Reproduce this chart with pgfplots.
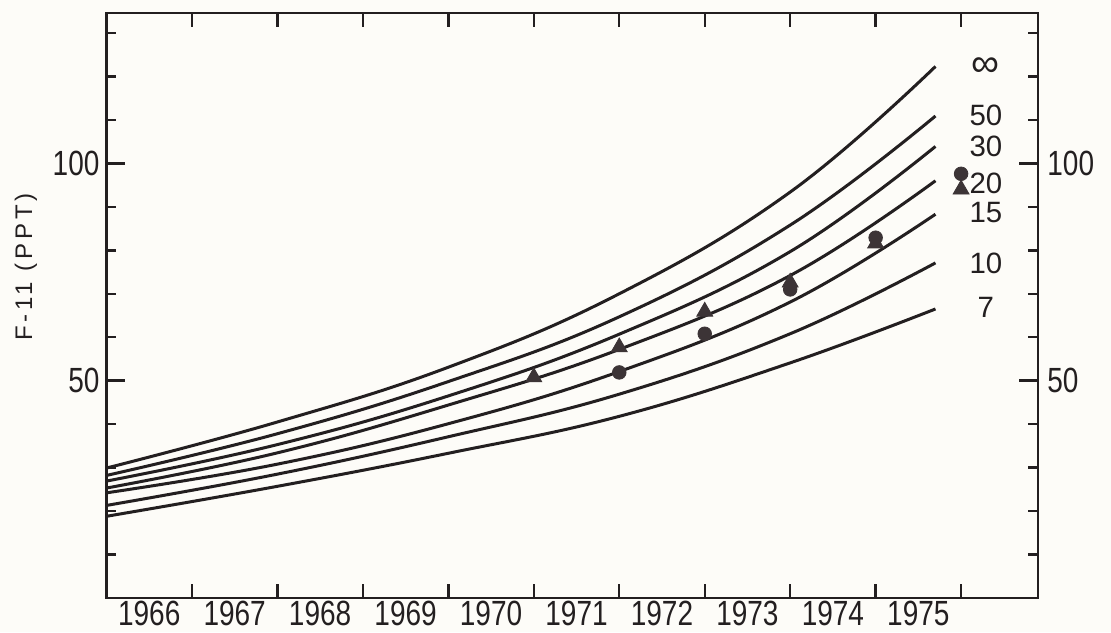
\documentclass[border=0pt]{standalone}
\usepackage{fontspec}
\setmainfont{Liberation Sans}
\newfontfamily\tickfont{Liberation Sans}[FakeStretch=0.8]
\newfontfamily\labfont{Liberation Sans}[LetterSpace=16]
\usepackage{pgfplots}
\pgfplotsset{compat=1.18}
\definecolor{ink}{RGB}{35,31,32}
\definecolor{mk}{RGB}{60,52,54}
\definecolor{bg}{RGB}{253,252,248}
\begin{document}
\begin{tikzpicture}
\path[use as bounding box, fill=bg] (-53.25pt,-17pt) rectangle (502.25pt,299pt);
\begin{axis}[
  scale only axis, width=465.75pt, height=292.5pt,
  xmin=1966, xmax=1976.9, ymin=0, ymax=134.6,
  clip=false,
  axis line style={ink, line width=1.2pt},
  tick style={ink, line width=1.2pt},
  major tick length=5pt,
  xtick=\empty,
  extra x ticks={1967,1968,1969,1970,1971,1972,1973,1974,1975,1976},
  extra x tick labels={1966,1967,1968,1969,1970,1971,1972,1973,1974,1975},
  extra x tick style={major tick length=7pt},
  x tick label style={xshift=-21.375pt, yshift=2pt},
  tick label style={font=\tickfont\fontsize{17.5}{20}\selectfont, text=ink},
  /pgf/number format/assume math mode=true,
  ytick={10,20,30,40,50,60,70,80,90,100,110,120,130},
  yticklabels={,,,,,,,,,,,,},
  extra y ticks={50,100},
  extra y tick labels={50,100},
  extra y tick style={major tick length=9.5pt},
]
% model curves (label: mean residence time)
\addplot[ink, line width=1.5pt, smooth, tension=0.7, no markers] coordinates {(1966,29.9) (1968,40.5) (1970,53.1) (1972,70.0) (1974,93.4) (1975.7,122.3)};
\addplot[ink, line width=1.5pt, smooth, tension=0.7, no markers] coordinates {(1966,28.2) (1968,37.8) (1970,49.8) (1972,64.7) (1974,85.8) (1975.7,110.9)};
\addplot[ink, line width=1.5pt, smooth, tension=0.7, no markers] coordinates {(1966,26.9) (1968,35.3) (1970,46.5) (1972,60.7) (1974,79.7) (1975.7,103.9)};
\addplot[ink, line width=1.5pt, smooth, tension=0.7, no markers] coordinates {(1966,25.3) (1968,33.4) (1970,44.4) (1972,57.2) (1974,74.2) (1975.7,96.0)};
\addplot[ink, line width=1.5pt, smooth, tension=0.7, no markers] coordinates {(1966,24.2) (1968,30.8) (1970,40.1) (1972,52.1) (1974,68.1) (1975.7,88.3)};
\addplot[ink, line width=1.5pt, smooth, tension=0.7, no markers] coordinates {(1966,21.3) (1968,28.5) (1970,37.1) (1972,46.9) (1974,60.8) (1975.7,77.1)};
\addplot[ink, line width=1.5pt, smooth, tension=0.7, no markers] coordinates {(1966,18.8) (1968,25.7) (1970,33.3) (1972,41.8) (1974,54.1) (1975.7,66.5)};
% observations
\addplot[only marks, mark=triangle*, mark size=4.6pt, mark options={fill=mk, draw=mk}] coordinates {(1971,50.8) (1972,57.7) (1973,65.9) (1974,72.6) (1975,81.6) (1976,94.0)};
\addplot[only marks, mark=*, mark size=3.4pt, mark options={fill=mk, draw=mk}] coordinates {(1972,51.9) (1973,60.8) (1974,71.0) (1975,82.9) (1976,97.6)};
% curve labels
\begin{scope}[every node/.style={font=\fontsize{14.7}{16}\selectfont, text=ink, inner sep=0pt}]
\node[font=\fontsize{19.6}{20}\selectfont] at (axis cs:1976.29,122.2) {∞};
\node at (axis cs:1976.29,111.1) {50};
\node at (axis cs:1976.29,103.8) {30};
\node at (axis cs:1976.29,95.5) {20};
\node at (axis cs:1976.29,88.6) {15};
\node at (axis cs:1976.29,77.1) {10};
\node at (axis cs:1976.29,66.8) {7};
\end{scope}
% right-hand tick labels
\node[anchor=west, inner sep=0pt, xshift=4.5pt, font=\tickfont\fontsize{17.5}{20}\selectfont, text=ink] at (axis cs:1976.9,100) {100};
\node[anchor=west, inner sep=0pt, xshift=4.5pt, font=\tickfont\fontsize{17.5}{20}\selectfont, text=ink] at (axis cs:1976.9,50) {50};
\end{axis}
\node[rotate=90, font=\labfont\fontsize{12}{14}\selectfont, text=ink] at (-40.25pt,165.5pt) {F-11 (PPT)};
\end{tikzpicture}
\end{document}
